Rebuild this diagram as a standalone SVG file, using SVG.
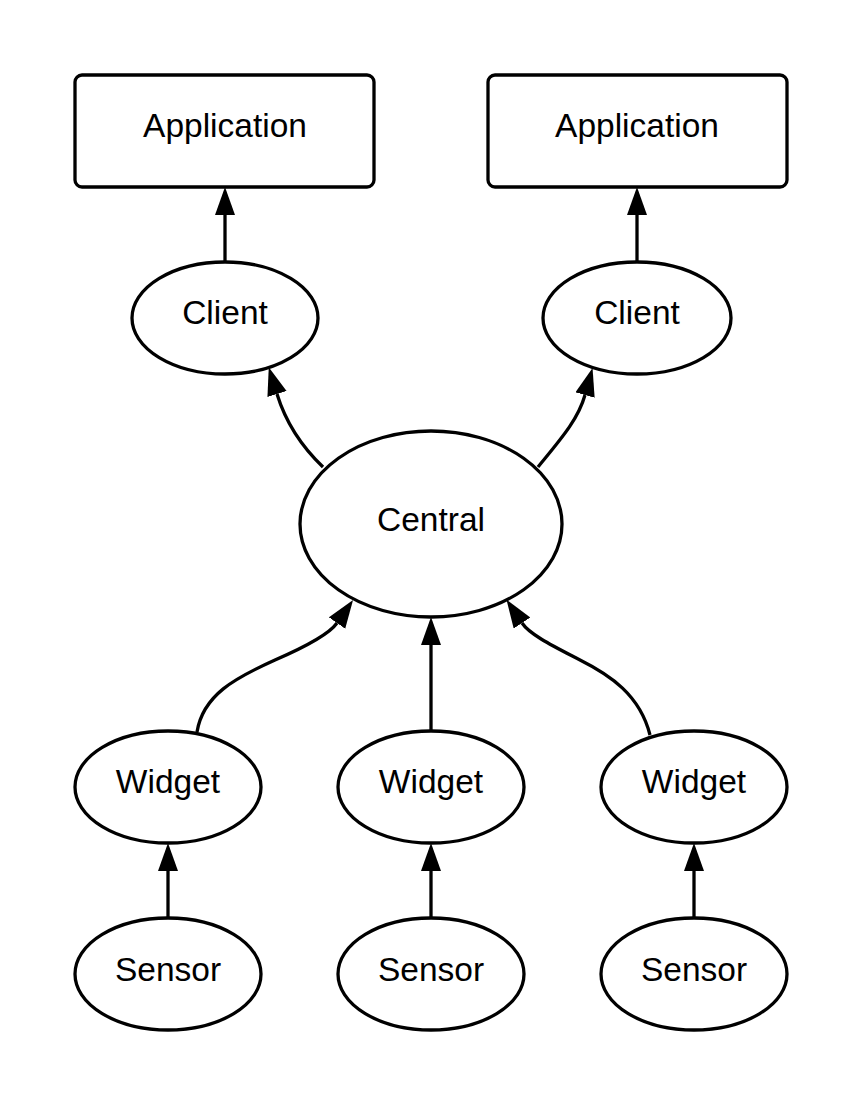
<svg xmlns="http://www.w3.org/2000/svg" width="863" height="1106" viewBox="0 0 863 1106">
<defs>
<marker id="ah" markerUnits="userSpaceOnUse" markerWidth="30" markerHeight="22" refX="0" refY="10" orient="auto" viewBox="0 0 30 22">
<path d="M0,0 L28,10 L0,20 z" fill="#000"/>
</marker>
<style>
.n{fill:#fff;stroke:#000;stroke-width:3.3}
.t{font-family:"Liberation Sans",Arial,sans-serif;font-size:33.5px;text-anchor:middle;fill:#000}
.c{fill:none;stroke:#000;stroke-width:3.3;marker-end:url(#ah)}
</style>
</defs>
<rect width="863" height="1106" fill="#fff"/>
<g id="connectors">
<path class="c" d="M225,262 L225,215"/>
<path class="c" d="M637,262 L637,215"/>
<path class="c" d="M323,467 C300,445 285,420 277,394"/>
<path class="c" d="M538,467 C560,440 578,420 585,395"/>
<path class="c" d="M197,732 C203,695 235,678 275,660 C305,647 330,633 337,623"/>
<path class="c" d="M431,731 L431,645"/>
<path class="c" d="M650,735 C640,695 610,675 580,660 C555,647 530,635 522,623"/>
<path class="c" d="M168,918 L168,871"/>
<path class="c" d="M431,918 L431,871"/>
<path class="c" d="M694,918 L694,871"/>
</g>
<g id="app1"><rect class="n" x="75" y="75" width="299" height="112" rx="7"/><text class="t" x="225" y="137">Application</text></g>
<g id="app2"><rect class="n" x="488" y="75" width="299" height="112" rx="7"/><text class="t" x="637" y="137">Application</text></g>
<g id="client1"><ellipse class="n" cx="225" cy="318" rx="93" ry="56"/><text class="t" x="225" y="324">Client</text></g>
<g id="client2"><ellipse class="n" cx="637" cy="318" rx="94" ry="56"/><text class="t" x="637" y="324">Client</text></g>
<g id="central"><ellipse class="n" cx="431" cy="524" rx="131" ry="93"/><text class="t" x="431" y="531">Central</text></g>
<g id="widget1"><ellipse class="n" cx="168" cy="787" rx="93" ry="56"/><text class="t" x="168" y="793">Widget</text></g>
<g id="widget2"><ellipse class="n" cx="431" cy="787" rx="93" ry="56"/><text class="t" x="431" y="793">Widget</text></g>
<g id="widget3"><ellipse class="n" cx="694" cy="787" rx="93" ry="56"/><text class="t" x="694" y="793">Widget</text></g>
<g id="sensor1"><ellipse class="n" cx="168" cy="974" rx="93" ry="56"/><text class="t" x="168" y="981">Sensor</text></g>
<g id="sensor2"><ellipse class="n" cx="431" cy="974" rx="93" ry="56"/><text class="t" x="431" y="981">Sensor</text></g>
<g id="sensor3"><ellipse class="n" cx="694" cy="974" rx="93" ry="56"/><text class="t" x="694" y="981">Sensor</text></g>
</svg>
